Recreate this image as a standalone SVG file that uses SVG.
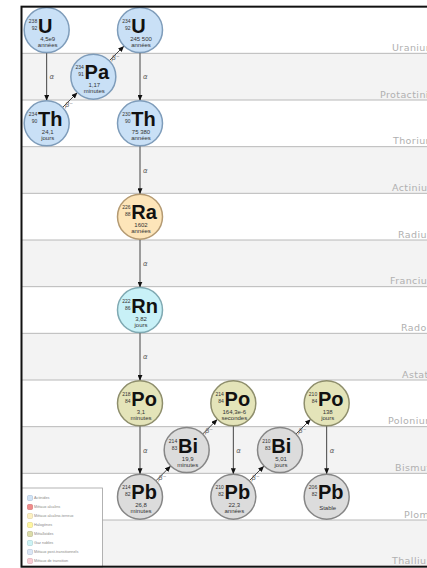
<svg xmlns="http://www.w3.org/2000/svg" width="427" height="568" viewBox="0 0 427 568">
  <style>
    .row-alt { fill: #f3f3f3; }
    .row-line { stroke: #b8b8b8; stroke-width: 1; }
    .row-name { font-family: "DejaVu Sans", sans-serif; font-size: 9.5px; fill: #b0b0b0; letter-spacing: 0.4px; }
    .node circle { stroke-width: 1.5; }
    .actinide circle { fill: #c9e0f6; stroke: #7e9cba; }
    .alkearth circle { fill: #fde5b9; stroke: #b49a72; }
    .noble circle { fill: #c8f1f7; stroke: #7fa9b2; }
    .metalloid circle { fill: #e4e4b9; stroke: #8e8e6c; }
    .poor circle { fill: #dcdcdc; stroke: #868686; }
    .sym { font-family: "Liberation Sans", Arial, sans-serif; font-weight: bold; font-size: 20px; fill: #111; }
    .num { font-family: "Liberation Sans", Arial, sans-serif; font-size: 5px; fill: #333; text-anchor: end; }
    .life { font-family: "Liberation Sans", Arial, sans-serif; font-size: 6px; fill: #333; text-anchor: middle; }
    .edge { stroke: #444; stroke-width: 1; fill: none; marker-end: url(#head); }
    .elabel { font-family: "DejaVu Sans", sans-serif; font-size: 7px; fill: #666; font-style: italic; }
    .beta { text-anchor: middle; }
    .legend-text { font-family: "Liberation Sans", Arial, sans-serif; font-size: 3.8px; fill: #8a8a8a; }
    .swatch { stroke-width: 0.6; }
  </style>
  <defs>
    <marker id="head" markerUnits="userSpaceOnUse" markerWidth="6" markerHeight="5" refX="6" refY="2.5" orient="auto">
      <path d="M0,0 L6,2.5 L0,5 z" fill="#111"/>
    </marker>
  </defs>

  <rect x="0" y="0" width="427" height="568" fill="#fff"/>

  <!-- element rows: 12 rows of 46.67px starting at y=6.67 -->
  <g id="rows">
    <rect class="row-alt" x="21.5" y="53.33" width="420" height="46.67"/>
    <rect class="row-alt" x="21.5" y="146.67" width="420" height="46.67"/>
    <rect class="row-alt" x="21.5" y="240" width="420" height="46.67"/>
    <rect class="row-alt" x="21.5" y="333.33" width="420" height="46.67"/>
    <rect class="row-alt" x="21.5" y="426.67" width="420" height="46.67"/>
    <rect class="row-alt" x="21.5" y="520" width="420" height="46.67"/>
    <line class="row-line" x1="21.5" y1="53.33" x2="427" y2="53.33"/>
    <line class="row-line" x1="21.5" y1="100" x2="427" y2="100"/>
    <line class="row-line" x1="21.5" y1="146.67" x2="427" y2="146.67"/>
    <line class="row-line" x1="21.5" y1="193.33" x2="427" y2="193.33"/>
    <line class="row-line" x1="21.5" y1="240" x2="427" y2="240"/>
    <line class="row-line" x1="21.5" y1="286.67" x2="427" y2="286.67"/>
    <line class="row-line" x1="21.5" y1="333.33" x2="427" y2="333.33"/>
    <line class="row-line" x1="21.5" y1="380" x2="427" y2="380"/>
    <line class="row-line" x1="21.5" y1="426.67" x2="427" y2="426.67"/>
    <line class="row-line" x1="21.5" y1="473.33" x2="427" y2="473.33"/>
    <line class="row-line" x1="21.5" y1="520" x2="427" y2="520"/>
    <text class="row-name" x="392" y="51">Uranium</text>
    <text class="row-name" x="380" y="97.5">Protactinium</text>
    <text class="row-name" x="393" y="144">Thorium</text>
    <text class="row-name" x="392" y="191">Actinium</text>
    <text class="row-name" x="398" y="237.5">Radium</text>
    <text class="row-name" x="390" y="284">Francium</text>
    <text class="row-name" x="401" y="331">Radon</text>
    <text class="row-name" x="402" y="377.5">Astatine</text>
    <text class="row-name" x="388" y="424">Polonium</text>
    <text class="row-name" x="395" y="471">Bismuth</text>
    <text class="row-name" x="404" y="517.5">Plomb</text>
    <text class="row-name" x="392" y="564">Thallium</text>
  </g>

  <!-- legend -->
  <g id="legend">
    <rect x="21.5" y="488" width="81" height="79" fill="#fff" stroke="#a0a0a0" stroke-width="0.8"/>
    <rect class="swatch" x="27.5" y="495.5" width="5" height="5" rx="1" fill="#d2e4f6" stroke="#a9c0d8"/>
    <rect class="swatch" x="27.5" y="504.5" width="5" height="5" rx="1" fill="#f08a8a" stroke="#d06a6a"/>
    <rect class="swatch" x="27.5" y="513.5" width="5" height="5" rx="1" fill="#fdf0c0" stroke="#ddd0a0"/>
    <rect class="swatch" x="27.5" y="522.5" width="5" height="5" rx="1" fill="#fff6a0" stroke="#ddd480"/>
    <rect class="swatch" x="27.5" y="531.5" width="5" height="5" rx="1" fill="#dcdca8" stroke="#b4b488"/>
    <rect class="swatch" x="27.5" y="540.5" width="5" height="5" rx="1" fill="#cdf3f5" stroke="#a4cfd2"/>
    <rect class="swatch" x="27.5" y="549.5" width="5" height="5" rx="1" fill="#dbe6f5" stroke="#b3c3d8"/>
    <rect class="swatch" x="27.5" y="558.5" width="5" height="5" rx="1" fill="#f8ccd4" stroke="#dca8b2"/>
    <text class="legend-text" x="34" y="499.3">Actinides</text>
    <text class="legend-text" x="34" y="508.3">Métaux alcalins</text>
    <text class="legend-text" x="34" y="517.3">Métaux alcalino-terreux</text>
    <text class="legend-text" x="34" y="526.3">Halogènes</text>
    <text class="legend-text" x="34" y="535.3">Métalloïdes</text>
    <text class="legend-text" x="34" y="544.3">Gaz nobles</text>
    <text class="legend-text" x="34" y="553.3">Métaux post-transitionnels</text>
    <text class="legend-text" x="34" y="562.3">Métaux de transition</text>
  </g>

  <!-- decay arrows -->
  <g id="connectors">
    <!-- alpha decays -->
    <line class="edge" x1="46.67" y1="52.5" x2="46.67" y2="100.83"/>
    <line class="edge" x1="140" y1="52.5" x2="140" y2="100.83"/>
    <line class="edge" x1="140" y1="145.83" x2="140" y2="194.17"/>
    <line class="edge" x1="140" y1="239.17" x2="140" y2="287.5"/>
    <line class="edge" x1="140" y1="332.5" x2="140" y2="380.83"/>
    <line class="edge" x1="140" y1="425.83" x2="140" y2="474.17"/>
    <line class="edge" x1="233.33" y1="425.83" x2="233.33" y2="474.17"/>
    <line class="edge" x1="326.67" y1="425.83" x2="326.67" y2="474.17"/>
    <text class="elabel" x="49.5" y="79">α</text>
    <text class="elabel" x="143" y="79">α</text>
    <text class="elabel" x="143" y="172.5">α</text>
    <text class="elabel" x="143" y="265.8">α</text>
    <text class="elabel" x="143" y="359">α</text>
    <text class="elabel" x="143" y="452.5">α</text>
    <text class="elabel" x="236.3" y="452.5">α</text>
    <text class="elabel" x="329.7" y="452.5">α</text>
    <!-- beta-minus decays -->
    <line class="edge" x1="62.58" y1="107.42" x2="77.42" y2="92.58"/>
    <line class="edge" x1="109.24" y1="60.76" x2="124.09" y2="45.91"/>
    <line class="edge" x1="155.91" y1="480.76" x2="170.76" y2="465.91"/>
    <line class="edge" x1="202.58" y1="434.09" x2="217.42" y2="419.24"/>
    <line class="edge" x1="249.24" y1="480.76" x2="264.09" y2="465.91"/>
    <line class="edge" x1="295.91" y1="434.09" x2="310.76" y2="419.24"/>
    <text class="elabel beta" x="69" y="106.5">β⁻</text>
    <text class="elabel beta" x="115.7" y="59.8">β⁻</text>
    <text class="elabel beta" x="162.3" y="479.8">β⁻</text>
    <text class="elabel beta" x="209" y="433.2">β⁻</text>
    <text class="elabel beta" x="255.7" y="479.8">β⁻</text>
    <text class="elabel beta" x="302.3" y="433.2">β⁻</text>
  </g>

  <!-- nuclides: mass / atomic number, symbol, half-life -->
  <g id="U238" class="node actinide">
    <circle cx="46.67" cy="30" r="22.5"/>
    <text class="num" x="37.2" y="22.5">238</text><text class="num" x="37.2" y="29.5">92</text>
    <text class="sym" x="38" y="32.5">U</text>
    <text class="life" x="47.7" y="40.5">4,5e9</text><text class="life" x="47.7" y="46.5">années</text>
  </g>
  <g id="Th234" class="node actinide">
    <circle cx="46.67" cy="123.33" r="22.5"/>
    <text class="num" x="37.2" y="115.8">234</text><text class="num" x="37.2" y="122.8">90</text>
    <text class="sym" x="38" y="125.8">Th</text>
    <text class="life" x="47.7" y="133.8">24,1</text><text class="life" x="47.7" y="139.8">jours</text>
  </g>
  <g id="Pa234" class="node actinide">
    <circle cx="93.33" cy="76.67" r="22.5"/>
    <text class="num" x="83.8" y="69.2">234</text><text class="num" x="83.8" y="76.2">91</text>
    <text class="sym" x="84.6" y="79.2">Pa</text>
    <text class="life" x="94.3" y="87.2">1,17</text><text class="life" x="94.3" y="93.2">minutes</text>
  </g>
  <g id="U234" class="node actinide">
    <circle cx="140" cy="30" r="22.5"/>
    <text class="num" x="130.5" y="22.5">234</text><text class="num" x="130.5" y="29.5">92</text>
    <text class="sym" x="131.3" y="32.5">U</text>
    <text class="life" x="141" y="40.5">245 500</text><text class="life" x="141" y="46.5">années</text>
  </g>
  <g id="Th230" class="node actinide">
    <circle cx="140" cy="123.33" r="22.5"/>
    <text class="num" x="130.5" y="115.8">230</text><text class="num" x="130.5" y="122.8">90</text>
    <text class="sym" x="131.3" y="125.8">Th</text>
    <text class="life" x="141" y="133.8">75 380</text><text class="life" x="141" y="139.8">années</text>
  </g>
  <g id="Ra226" class="node alkearth">
    <circle cx="140" cy="216.67" r="22.5"/>
    <text class="num" x="130.5" y="209.2">226</text><text class="num" x="130.5" y="216.2">88</text>
    <text class="sym" x="131.3" y="219.2">Ra</text>
    <text class="life" x="141" y="227.2">1602</text><text class="life" x="141" y="233.2">années</text>
  </g>
  <g id="Rn222" class="node noble">
    <circle cx="140" cy="310" r="22.5"/>
    <text class="num" x="130.5" y="302.5">222</text><text class="num" x="130.5" y="309.5">86</text>
    <text class="sym" x="131.3" y="312.5">Rn</text>
    <text class="life" x="141" y="320.5">3,82</text><text class="life" x="141" y="326.5">jours</text>
  </g>
  <g id="Po218" class="node metalloid">
    <circle cx="140" cy="403.33" r="22.5"/>
    <text class="num" x="130.5" y="395.8">218</text><text class="num" x="130.5" y="402.8">84</text>
    <text class="sym" x="131.3" y="405.8">Po</text>
    <text class="life" x="141" y="413.8">3,1</text><text class="life" x="141" y="419.8">minutes</text>
  </g>
  <g id="Pb214" class="node poor">
    <circle cx="140" cy="496.67" r="22.5"/>
    <text class="num" x="130.5" y="489.2">214</text><text class="num" x="130.5" y="496.2">82</text>
    <text class="sym" x="131.3" y="499.2">Pb</text>
    <text class="life" x="141" y="507.2">26,8</text><text class="life" x="141" y="513.2">minutes</text>
  </g>
  <g id="Bi214" class="node poor">
    <circle cx="186.67" cy="450" r="22.5"/>
    <text class="num" x="177.2" y="442.5">214</text><text class="num" x="177.2" y="449.5">83</text>
    <text class="sym" x="178" y="452.5">Bi</text>
    <text class="life" x="187.7" y="460.5">19,9</text><text class="life" x="187.7" y="466.5">minutes</text>
  </g>
  <g id="Po214" class="node metalloid">
    <circle cx="233.33" cy="403.33" r="22.5"/>
    <text class="num" x="223.8" y="395.8">214</text><text class="num" x="223.8" y="402.8">84</text>
    <text class="sym" x="224.6" y="405.8">Po</text>
    <text class="life" x="234.3" y="413.8">164,3e-6</text><text class="life" x="234.3" y="419.8">secondes</text>
  </g>
  <g id="Pb210" class="node poor">
    <circle cx="233.33" cy="496.67" r="22.5"/>
    <text class="num" x="223.8" y="489.2">210</text><text class="num" x="223.8" y="496.2">82</text>
    <text class="sym" x="224.6" y="499.2">Pb</text>
    <text class="life" x="234.3" y="507.2">22,3</text><text class="life" x="234.3" y="513.2">années</text>
  </g>
  <g id="Bi210" class="node poor">
    <circle cx="280" cy="450" r="22.5"/>
    <text class="num" x="270.5" y="442.5">210</text><text class="num" x="270.5" y="449.5">83</text>
    <text class="sym" x="271.3" y="452.5">Bi</text>
    <text class="life" x="281" y="460.5">5,01</text><text class="life" x="281" y="466.5">jours</text>
  </g>
  <g id="Po210" class="node metalloid">
    <circle cx="326.67" cy="403.33" r="22.5"/>
    <text class="num" x="317.2" y="395.8">210</text><text class="num" x="317.2" y="402.8">84</text>
    <text class="sym" x="318" y="405.8">Po</text>
    <text class="life" x="327.7" y="413.8">138</text><text class="life" x="327.7" y="419.8">jours</text>
  </g>
  <g id="Pb206" class="node poor">
    <circle cx="326.67" cy="496.67" r="22.5"/>
    <text class="num" x="317.2" y="489.2">206</text><text class="num" x="317.2" y="496.2">82</text>
    <text class="sym" x="318" y="499.2">Pb</text>
    <text class="life" x="327.7" y="509.5">Stable</text>
  </g>

  <!-- outer frame -->
  <rect x="21.5" y="6.67" width="420" height="560" fill="none" stroke="#111" stroke-width="2"/>
</svg>
